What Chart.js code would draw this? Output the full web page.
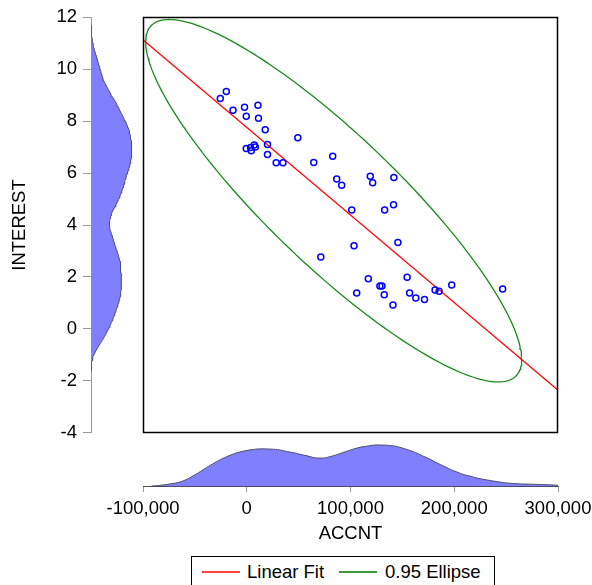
<!DOCTYPE html>
<html>
<head>
<meta charset="utf-8">
<script src="https://cdn.jsdelivr.net/npm/chart.js@4.4.1/dist/chart.umd.min.js"></script>
<style>
  body { margin: 0; background: #fff; width: 592px; height: 585px; overflow: hidden; position: relative; font-family: "Liberation Sans", Arial, sans-serif; }
  canvas { position: absolute; }
  #legend { position: absolute; left: 191px; top: 556px; width: 304px; height: 40px; border: 1px solid #000; box-sizing: border-box; background: #fff; }
  #legend .swatch { position: absolute; top: 14px; width: 38px; height: 2px; }
  #legend .label { position: absolute; top: 4px; font-size: 18.5px; line-height: 22px; color: #000; white-space: nowrap; }
</style>
</head>
<body>
<canvas id="leftDensity" width="140" height="450" style="left:0;top:0"></canvas>
<canvas id="bottomDensity" width="520" height="116" style="left:90px;top:434px"></canvas>
<canvas id="scatter" width="425" height="426" style="left:138px;top:12px"></canvas>
<div id="legend">
  <div class="swatch" style="left:10px;background:#ff4040"></div>
  <div class="label" style="left:55px">Linear Fit</div>
  <div class="swatch" style="left:147px;background:#3a9a3a"></div>
  <div class="label" style="left:193px">0.95 Ellipse</div>
</div>
<script>
// ACCNT / INTEREST observations
const accnt = [-25800, -20000, -13500, -2400, 10600, -700, 11100, 17600, 49100, 19800,
               7000, 8000, 3400, -700, 4100, 19800, 28200, 34700, 64500, 82800,
               86700, 91500, 119100, 121400, 141900, 101200, 133000, 141600, 103400, 145800,
               71300, 117200, 128400, 130400, 106000, 132600, 141000, 154700, 157100, 163100,
               171500, 181700, 185600, 197800, 247000];
const interest = [8.88, 9.15, 8.42, 8.54, 8.62, 8.19, 8.12, 7.67, 7.36, 7.10,
                  7.08, 7.01, 6.99, 6.95, 6.86, 6.72, 6.40, 6.40, 6.41, 6.65,
                  5.77, 5.53, 5.88, 5.63, 5.83, 4.58, 4.58, 4.78, 3.20, 3.33,
                  2.77, 1.93, 1.65, 1.65, 1.38, 1.31, 0.92, 1.99, 1.38, 1.19,
                  1.13, 1.49, 1.45, 1.69, 1.53];

// Axis ranges and ticks
const xTicks = [-100000, 0, 100000, 200000, 300000];
const yTicks = [-4, -2, 0, 2, 4, 6, 8, 10, 12];
const ellipseLevel = 0.95;

const FONT = { family: '"Liberation Sans", Arial, sans-serif', size: 18.5 };
const DENSITY_FILL = 'rgb(128,128,255)';
const DENSITY_LINE = '#4a4a66';

Chart.defaults.animation = false;
Chart.defaults.responsive = false;
Chart.defaults.devicePixelRatio = 1;
Chart.defaults.plugins.legend.display = false;
Chart.defaults.plugins.tooltip.enabled = false;

function mean(a) { return a.reduce((s, v) => s + v, 0) / a.length; }

function quantile(a, p) {
    const s = [...a].sort((u, v) => u - v);
    const pos = (s.length - 1) * p;
    const lo = Math.floor(pos), hi = Math.ceil(pos);
    return s[lo] + (s[hi] - s[lo]) * (pos - lo);
}

// Epanechnikov kernel with Silverman bandwidth
function kernelDensity(values, lo, hi, steps) {
    const n = values.length;
    const m = mean(values);
    const sd = Math.sqrt(values.reduce((s, v) => s + (v - m) ** 2, 0) / (n - 1));
    const iqr = quantile(values, 0.75) - quantile(values, 0.25);
    const h = 0.9 * 2.214 * Math.min(sd, iqr / 1.34) * Math.pow(n, -0.2);
    const from = Math.max(lo, Math.min(...values) - h);
    const to = Math.min(hi, Math.max(...values) + h);
    const pts = [];
    for (let i = 0; i <= steps; i++) {
        const v = from + (to - from) * i / steps;
        let d = 0;
        values.forEach(x => {
            const u = (v - x) / h;
            if (Math.abs(u) < 1) d += 0.75 * (1 - u * u);
        });
        pts.push({ v, d: d / (n * h) });
    }
    const peak = Math.max(...pts.map(p => p.d));
    return pts.map(p => ({ v: p.v, d: p.d / peak }));
}

// Least squares fit and confidence ellipse from the sample moments
const n = accnt.length;
const mx = mean(accnt), my = mean(interest);
let sxx = 0, syy = 0, sxy = 0;
for (let i = 0; i < n; i++) {
    sxx += (accnt[i] - mx) ** 2;
    syy += (interest[i] - my) ** 2;
    sxy += (accnt[i] - mx) * (interest[i] - my);
}
const slope = sxy / sxx;
const intercept = my - slope * mx;
const fitLine = [xTicks[0], xTicks[xTicks.length - 1]].map(x => ({ x, y: intercept + slope * x }));

sxx /= (n - 1); syy /= (n - 1); sxy /= (n - 1);
const m2 = n - 2;
const fQuant = (m2 / 2) * (Math.pow(1 - ellipseLevel, -2 / m2) - 1);
const radius = Math.sqrt(2 * (n - 1) / (n - 2) * fQuant);
const ca = Math.sqrt(sxx), cb = sxy / ca, cd = Math.sqrt(syy - cb * cb);
const ellipse = [];
for (let i = 0; i <= 240; i++) {
    const t = 2 * Math.PI * i / 240;
    ellipse.push({
        x: mx + radius * ca * Math.cos(t),
        y: my + radius * (cb * Math.cos(t) + cd * Math.sin(t))
    });
}

const frame = {
    id: 'frame',
    afterDraw(chart) {
        const { ctx, chartArea: a } = chart;
        ctx.save();
        ctx.strokeStyle = '#000';
        ctx.lineWidth = 1.5;
        ctx.strokeRect(a.left, a.top, a.right - a.left, a.bottom - a.top);
        ctx.restore();
    }
};

// Main scatter panel
new Chart(document.getElementById('scatter'), {
    type: 'scatter',
    data: {
        datasets: [{
            data: accnt.map((x, i) => ({ x, y: interest[i] })),
            pointRadius: 3,
            pointBorderWidth: 1.5,
            pointBorderColor: '#0000ff',
            pointBackgroundColor: 'rgba(255,255,255,0)'
        }, {
            data: fitLine,
            showLine: true,
            borderColor: '#ff0000',
            borderWidth: 1.2,
            pointRadius: 0,
            clip: 0
        }, {
            data: ellipse,
            showLine: true,
            borderColor: '#1a8a1a',
            borderWidth: 1.3,
            pointRadius: 0,
            clip: 0
        }]
    },
    options: {
        layout: { padding: 5 },
        scales: {
            x: { type: 'linear', min: xTicks[0], max: xTicks[xTicks.length - 1], display: false },
            y: { type: 'linear', min: yTicks[0], max: yTicks[yTicks.length - 1], display: false }
        }
    },
    plugins: [frame]
});

// INTEREST density along the left axis
const yDens = kernelDensity(interest, yTicks[0], yTicks[yTicks.length - 1], 200);
new Chart(document.getElementById('leftDensity'), {
    type: 'line',
    data: {
        datasets: [{
            data: yDens.map(p => ({ x: p.d, y: p.v })),
            borderColor: DENSITY_LINE,
            borderWidth: 1,
            backgroundColor: DENSITY_FILL,
            fill: 'origin',
            pointRadius: 0,
            tension: 0
        }]
    },
    options: {
        indexAxis: 'y',
        layout: { padding: { top: 17, bottom: 17, left: 0, right: 0 } },
        scales: {
            x: { type: 'linear', min: 0, max: 1.2, display: false },
            y: {
                type: 'linear',
                min: yTicks[0],
                max: yTicks[yTicks.length - 1],
                afterBuildTicks: s => { s.ticks = yTicks.map(v => ({ value: v })); },
                afterFit: s => { s.width = 91; },
                ticks: { color: '#000', font: FONT, padding: 6 },
                grid: { drawOnChartArea: false, tickLength: 8, color: '#999' },
                border: { color: '#999' },
                title: { display: true, text: 'INTEREST', color: '#000', font: FONT, padding: { top: 9 } }
            }
        }
    }
});

// ACCNT density under the bottom axis
const xDens = kernelDensity(accnt, xTicks[0], xTicks[xTicks.length - 1], 200);
new Chart(document.getElementById('bottomDensity'), {
    type: 'line',
    data: {
        datasets: [{
            data: xDens.map(p => ({ x: p.v, y: p.d })),
            borderColor: DENSITY_LINE,
            borderWidth: 1,
            backgroundColor: DENSITY_FILL,
            fill: 'origin',
            pointRadius: 0,
            tension: 0
        }]
    },
    options: {
        layout: { padding: { top: 6, bottom: 0, left: 53, right: 52 } },
        scales: {
            y: { type: 'linear', min: 0, max: 1.12, display: false },
            x: {
                type: 'linear',
                min: xTicks[0],
                max: xTicks[xTicks.length - 1],
                afterBuildTicks: s => { s.ticks = xTicks.map(v => ({ value: v })); },
                afterFit: s => { s.height = 64; },
                ticks: {
                    color: '#000', font: FONT, padding: 6, maxRotation: 0,
                    callback: v => v.toLocaleString('en-US')
                },
                grid: { drawOnChartArea: false, tickLength: 6, color: '#999' },
                border: { color: DENSITY_LINE },
                title: { display: true, text: 'ACCNT', color: '#000', font: FONT, padding: { top: 0, bottom: 5 } }
            }
        }
    }
});
</script>
</body>
</html>
